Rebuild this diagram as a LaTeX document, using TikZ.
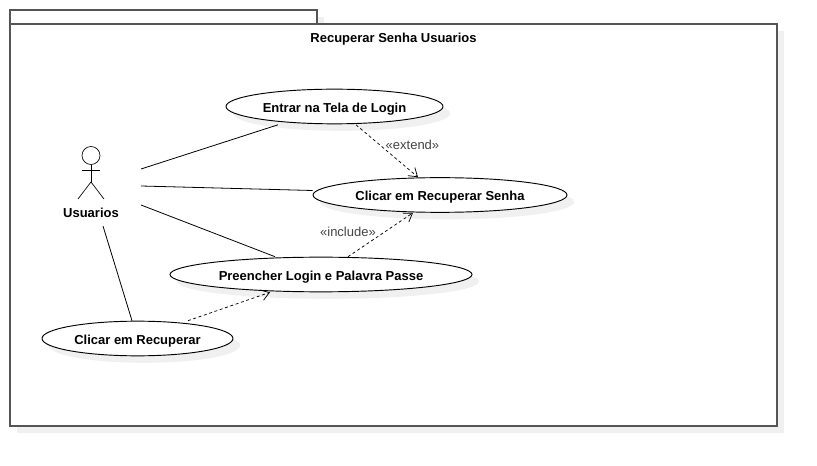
\documentclass[tikz,border=0pt]{standalone}
\usepackage{fontspec}
\setmainfont{Liberation Sans}
\usetikzlibrary{arrows.meta,shapes.geometric,shadows}
\definecolor{shadowgray}{HTML}{F0F0F0}
\definecolor{framegray}{HTML}{555555}
\definecolor{stereogray}{HTML}{444444}
\newcommand{\labelfont}{\fontsize{9.75}{11}\selectfont}
\tikzset{
  softshadow/.style={drop shadow={shadow xshift=5.25pt,shadow yshift=-5.25pt,fill=shadowgray,opacity=1}},
  usecase/.style={draw,ellipse,fill=white,inner sep=0,line width=0.7pt,softshadow,font=\labelfont\bfseries,text height=8.5pt,text depth=0pt},
  package/.style={draw=framegray,fill=white,line width=1.1pt,softshadow},
  assoc/.style={line width=0.6pt},
  depend/.style={line width=0.55pt,dash pattern=on 2.2pt off 2pt,-{Straight Barb[length=6pt,width=8pt,line width=0.55pt]}},
  stereo/.style={text=stereogray,inner sep=0,font=\labelfont},
  caption/.style={font=\labelfont\bfseries,text height=8.5pt,text depth=0pt,inner sep=0}
}
\newcommand{\drawcase}[2]{\node[usecase,minimum width=#1,minimum height=#2]}

\begin{document}
\begin{tikzpicture}[x=0.75pt,y=-0.75pt]
\useasboundingbox (0,0) rectangle (817,466);
%package frame
\draw[package] (10,10) rectangle (317,24);
\draw[package] (10,24) rectangle (777,426);
\node[caption] (title) at (393.5,37) {Recuperar Senha Usuarios};

%use cases
\drawcase{162.75pt}{26pt} (entrar) at (334.5,106.5) {Entrar na Tela de Login};
\drawcase{190.5pt}{26pt} (senha) at (440,195) {Clicar em Recuperar Senha};
\drawcase{226.5pt}{26pt} (preencher) at (321,274.5) {Preencher Login e Palavra Passe};
\drawcase{143.25pt}{26pt} (clicar) at (137.5,338.5) {Clicar em Recuperar};

%actor
\node[draw,circle,minimum size=13.5pt,inner sep=0,line width=0.5pt] (head) at (91,155.5) {};
\coordinate (hip) at (91,182);
\coordinate (armL) at (82,170);
\coordinate (armR) at (100,170);
\coordinate (legL) at (78,199);
\coordinate (legR) at (104,199);
\draw[line width=0.5pt] (head.south) to (hip);
\draw[line width=0.5pt] (armL) to (armR);
\draw[line width=0.5pt] (legL) to (hip) to (legR);
\node[caption] (usuarios) at (91,212) {Usuarios};

%free ends at the actor
\coordinate (actorA) at (141,169);
\coordinate (actorB) at (141,186);
\coordinate (actorC) at (141,205);
\coordinate (actorD) at (103,226);

\draw[assoc] (actorA) to ([shift={(-56.5,0.5)}]entrar.south);
\draw[assoc] (actorB) to ([shift={(0,-4.5)}]senha.west);
\draw[assoc] (actorC) to ([shift={(-46,0)}]preencher.north);
\draw[assoc] (actorD) to ([shift={(-5.5,0)}]clicar.north);

\draw[depend] ([shift={(21.5,0.5)}]entrar.south) to node (extend) [pos=0.5,right,stereo,xshift=-1.25pt,yshift=4.75pt] {«extend»} ([shift={(-22,0)}]senha.north);
\draw[depend] ([shift={(27,0)}]preencher.north) to node (include) [pos=0.5,left,stereo,xshift=-3.25pt,yshift=2.5pt] {«include»} ([shift={(-27,0)}]senha.south);
\draw[depend] ([shift={(50.5,0)}]clicar.north) to ([shift={(-51,0)}]preencher.south);
\end{tikzpicture}
\end{document}
